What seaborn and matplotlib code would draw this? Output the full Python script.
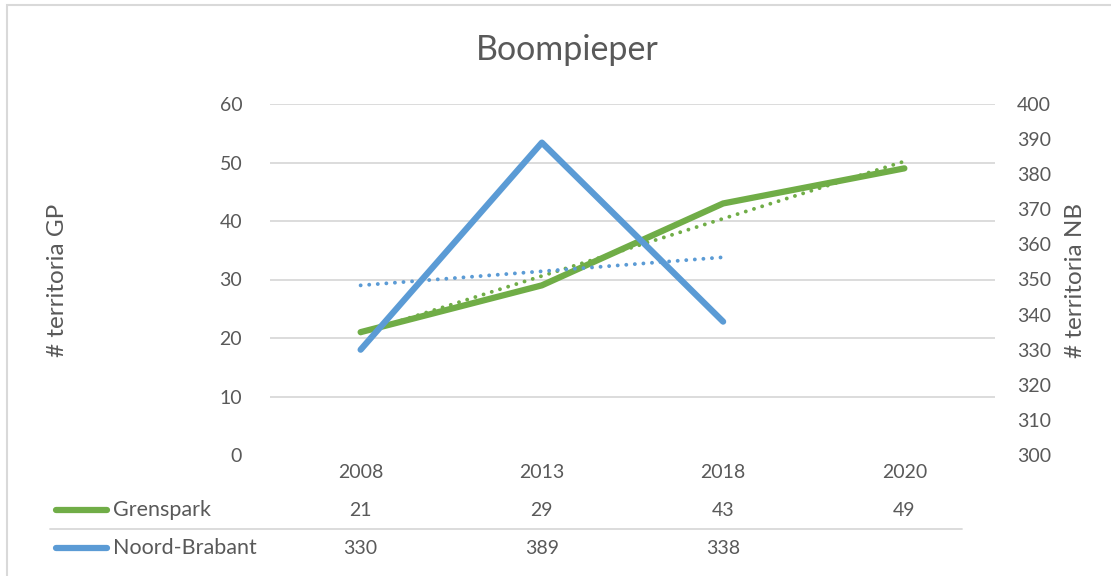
import numpy as np
import pandas as pd
import seaborn as sns
import matplotlib.pyplot as plt
from matplotlib.lines import Line2D
from matplotlib.patches import Rectangle
from matplotlib.transforms import blended_transform_factory

# data uit de grafiek
jaren = ['2008', '2013', '2018', '2020']
grenspark = [21, 29, 43, 49]
noord_brabant = [330, 389, 338]
gp_ticks = [0, 10, 20, 30, 40, 50, 60]
nb_ticks = [300, 310, 320, 330, 340, 350, 360, 370, 380, 390, 400]

groen = '#70AD47'
blauw = '#5B9BD5'
tekst = '#595959'
raster = '#D9D9D9'

sns.set_style('white')
plt.rcParams['font.family'] = ['Lato', 'DejaVu Sans']

gp = pd.DataFrame({'pos': np.arange(len(grenspark)), 'waarde': grenspark})
nb = pd.DataFrame({'pos': np.arange(len(noord_brabant)), 'waarde': noord_brabant})

fig = plt.figure(figsize=(11.11, 5.76), dpi=100)
ax = fig.add_axes([270 / 1111, 121 / 576, 725 / 1111, 351 / 576])
ax2 = ax.twinx()

stippel = (0, (0.01, 2.2))

# hoofdlijnen + lineaire trendlijnen
sns.lineplot(data=gp, x='pos', y='waarde', ax=ax, color=groen, linewidth=4.5,
             solid_capstyle='round', zorder=3)
sns.regplot(data=gp, x='pos', y='waarde', ax=ax, scatter=False, ci=None, truncate=True,
            line_kws=dict(color=groen, linestyle=stippel, linewidth=2.8, dash_capstyle='round', zorder=2))
sns.regplot(data=nb, x='pos', y='waarde', ax=ax2, scatter=False, ci=None, truncate=True,
            line_kws=dict(color=blauw, linestyle=stippel, linewidth=2.8, dash_capstyle='round', zorder=2))
sns.lineplot(data=nb, x='pos', y='waarde', ax=ax2, color=blauw, linewidth=4.5,
             solid_capstyle='round', zorder=3)

for a, ticks in [(ax, gp_ticks), (ax2, nb_ticks)]:
    a.set_ylim(ticks[0], ticks[-1])
    a.set_yticks(ticks)
    a.set_xlim(-0.5, len(jaren) - 0.5)
    a.set_xticks([])
    a.set_xlabel('')
    a.set_ylabel('')
    for s in a.spines.values():
        s.set_visible(False)
    a.tick_params(axis='y', length=0, labelsize=14, labelcolor=tekst)

ax.tick_params(axis='y', pad=20)
ax2.tick_params(axis='y', pad=16)
ax.yaxis.grid(True, color=raster, linewidth=1.3)
ax.get_ygridlines()[0].set_visible(False)
ax.set_axisbelow(True)

# titel en aslabels
fig.text(567 / 1111, 1 - 50 / 576, 'Boompieper', ha='center', va='center', fontsize=24.5, color=tekst)
fig.text(58 / 1111, 1 - 280 / 576, '# territoria GP', rotation=90, ha='center', va='center',
         fontsize=17.5, color=tekst)
fig.text(1076 / 1111, 1 - 280 / 576, '# territoria NB', rotation=90, ha='center', va='center',
         fontsize=17.5, color=tekst)

# gegevenstabel onder de grafiek
trans = blended_transform_factory(ax.transData, fig.transFigure)
for i, jaar in enumerate(jaren):
    ax.text(i, 1 - 473 / 576, jaar, transform=trans, ha='center', va='center', fontsize=14, color=tekst)
for i, v in enumerate(grenspark):
    ax.text(i, 1 - 510 / 576, str(v), transform=trans, ha='center', va='center', fontsize=14, color=tekst)
for i, v in enumerate(noord_brabant):
    ax.text(i, 1 - 548 / 576, str(v), transform=trans, ha='center', va='center', fontsize=14, color=tekst)

for naam, kleur, yy in [('Grenspark', groen, 510), ('Noord-Brabant', blauw, 548)]:
    fig.add_artist(Line2D([56 / 1111, 107 / 1111], [1 - yy / 576] * 2, color=kleur, linewidth=4.5,
                          solid_capstyle='round'))
    fig.text(113 / 1111, 1 - yy / 576, naam, ha='left', va='center', fontsize=15.5, color=tekst)

fig.add_artist(Line2D([50 / 1111, 962 / 1111], [1 - 529 / 576] * 2, color=raster, linewidth=1.3))

# rand van het grafiekgebied
fig.add_artist(Rectangle((7 / 1111, -0.1), 1.2, 1 - 5 / 576 + 0.1, transform=fig.transFigure,
                         fill=False, edgecolor=raster, linewidth=1.5))

fig.savefig('out.png', dpi=100)
